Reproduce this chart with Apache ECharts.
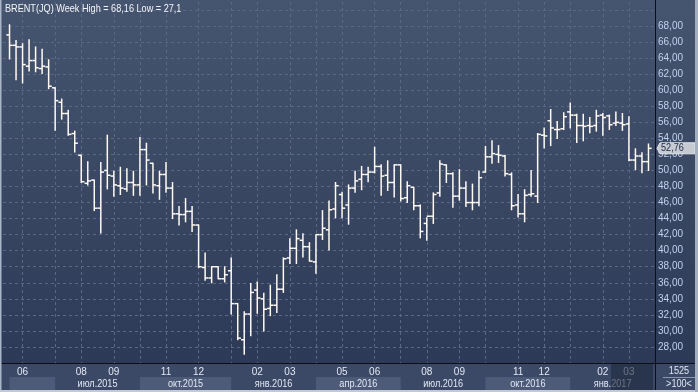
<!DOCTYPE html>
<html><head><meta charset="utf-8">
<script src="https://cdn.jsdelivr.net/npm/echarts@6/dist/echarts.min.js"></script>
<style>html,body{margin:0;padding:0;background:#2d3a57;overflow:hidden}#c{width:698px;height:392px}</style>
</head><body><div id="c"></div>
<script>
// ---- data (weekly OHLC, Brent JQ, week of 2015-05-11 .. 2017-03-27) ----
const opens  = [66.9,65.6,65.4,63.0,63.7,62.7,62.9,60.3,58.5,57.1,54.6,51.9,48.4,48.8,45.3,50.0,49.3,48.1,47.7,48.5,
                48.2,52.6,50.9,48.1,49.5,47.8,44.6,44.5,44.9,43.2,37.9,36.6,38.0,36.5,37.5,33.4,28.9,32.1,35.1,34.0,
                32.8,33.2,35.2,39.1,40.3,41.3,40.5,38.6,42.0,42.6,45.2,47.0,45.7,47.8,48.9,49.5,49.8,50.5,49.4,48.5,
                50.7,46.6,47.9,45.6,43.4,44.3,47.2,50.7,49.6,46.8,47.8,46.0,46.0,49.8,51.7,52.0,51.8,49.5,45.7,44.6,
                47.0,46.8,54.4,56.2,55.1,55.2,57.3,56.9,55.6,55.6,55.6,56.9,56.8,55.9,55.9,55.8,51.3,51.8,51.1];
const highs  = [68.16,66.2,65.8,66.3,65.4,65.1,63.8,60.3,58.9,57.5,54.9,51.9,51.1,48.8,51.0,54.4,49.9,50.4,50.2,49.9,
                54.1,53.4,50.9,49.9,51.0,48.5,45.5,46.5,45.5,43.2,39.7,38.0,38.0,38.0,39.1,33.4,32.4,35.9,36.1,34.7,
                35.7,37.0,39.1,41.5,42.6,42.1,41.0,42.0,45.0,46.2,48.5,47.3,48.2,49.9,50.5,50.4,52.9,50.7,51.2,50.7,
                50.7,48.6,47.9,45.7,44.1,47.2,51.2,50.7,49.7,50.1,48.6,48.3,49.9,53.0,53.7,53.1,51.9,49.7,47.0,47.6,
                50.0,54.6,55.3,57.6,56.1,57.2,58.4,57.0,57.0,56.6,57.5,57.1,56.9,57.3,57.1,56.7,52.7,52.2,53.3];
const lows   = [63.9,61.3,60.9,62.4,62.3,62.1,60.2,55.0,56.4,54.4,52.3,48.5,48.2,45.0,42.2,47.7,46.8,47.0,47.4,46.9,
                46.9,48.2,47.2,46.4,47.3,44.0,43.2,43.6,42.4,37.9,36.3,36.0,36.5,36.1,32.1,28.9,27.1,29.4,32.2,30.0,
                31.9,32.3,34.8,38.4,38.4,39.2,38.7,37.2,41.4,40.1,44.1,44.1,43.3,47.3,47.6,48.6,49.7,46.9,47.5,46.7,
                46.2,46.0,45.1,41.6,41.3,43.4,46.8,48.5,45.4,46.3,45.5,45.1,45.6,49.8,50.9,51.0,49.3,45.1,44.2,43.6,
                46.8,46.0,52.8,53.1,54.0,55.1,55.3,53.5,53.7,54.7,54.9,54.4,55.1,55.6,55.0,51.2,50.1,49.7,50.0];
const closes = [65.6,65.4,63.2,63.7,62.8,63.0,60.5,58.7,57.1,54.5,53.4,48.6,48.7,45.3,49.8,49.4,48.2,47.8,48.5,48.2,
                52.6,51.3,48.2,49.5,47.8,44.6,44.5,44.9,43.2,38.0,36.6,38.0,36.5,37.0,33.4,29.1,32.1,34.8,34.1,32.7,
                33.2,35.2,39.0,40.3,41.5,40.5,38.7,42.0,42.8,45.1,48.1,45.3,47.8,48.7,49.5,49.8,50.5,49.3,48.5,50.7,
                46.5,48.1,45.6,42.4,44.3,47.0,50.8,49.6,46.8,47.8,46.0,46.0,49.1,51.7,52.1,51.9,49.6,45.6,44.6,46.9,
                47.1,54.5,54.3,55.3,55.1,56.7,56.9,55.6,55.5,55.5,56.8,56.6,55.7,56.0,55.7,51.3,51.8,51.1,52.76];
const firstWeek = '2015-05-11';
// month boundaries (bar index), and their tick labels ('' = hidden, quarter months)
const monthIdx  = [2,7,11,16,20,24,29,34,38,43,47,51,56,60,64,69,73,78,82,86,91,95];
const monthText = ['06','','08','09','','11','12','','02','03','','05','06','','08','09','','11','12','','02','03'];
// quarter bands: start bar index, label
const quarterIdx   = [0,7,20,34,47,60,73,86];
const quarterText  = ['','июл.2015','окт.2015','янв.2016','апр.2016','июл.2016','окт.2016','янв.2017'];
const titleText = 'BRENT(JQ) Week High = 68,16 Low = 27,1';
const lastValue = 52.76;
const cornerTop = '1525', cornerBottom = '>100<';

// ---- build ----
const FONT = '"Liberation Sans Narrow","Liberation Sans",Arial,sans-serif';
const NARROW = 0.83;
const cats = [];
{
  const d0 = new Date(firstWeek + 'T00:00:00Z');
  for (let i = -1; i <= opens.length; i++) {
    const d = new Date(d0.getTime() + i * 7 * 86400000);
    cats.push(d.toISOString().slice(0, 10));
  }
}
const ohlc = opens.map((o, i) => [i + 1, o, highs[i], lows[i], closes[i]]);
const gridSet = new Set(monthIdx.map(i => i + 1));
const labelMap = {};
monthIdx.forEach((i, k) => { if (monthText[k]) labelMap[i + 1] = monthText[k]; });

const chart = echarts.init(document.getElementById('c'), null, {renderer: 'canvas'});
const dash = {color: '#5a6884', type: [3, 3], width: 1};
chart.setOption({
  animation: false,
  backgroundColor: '#3b4866',
  grid: {left: 3, right: 43, top: 2, bottom: 29, containLabel: false},
  xAxis: {
    type: 'category', data: cats, boundaryGap: false,
    axisLine: {show: false}, axisTick: {show: false},
    axisLabel: {interval: (i) => labelMap[i] !== undefined, formatter: (v, i) => labelMap[i] || '',
      margin: 4, color: '#e2e8f2', fontSize: 10, fontFamily: FONT},
    splitLine: {show: true, interval: (i) => gridSet.has(i), lineStyle: dash}
  },
  yAxis: {
    type: 'value', position: 'right', min: 26, max: 71, interval: 2, scale: true,
    axisLine: {show: false}, axisTick: {show: false},
    axisLabel: {margin: 3, color: '#bfd2ee', fontSize: 10, fontFamily: FONT,
      formatter: v => (v >= 28 && v <= 68) ? v.toFixed(2).replace('.', ',') : ''},
    splitLine: {show: true, showMaxLine: false, showMinLine: false, lineStyle: dash}
  },
  series: [{
    type: 'custom', data: ohlc, encode: {x: 0, y: [1, 2, 3, 4]}, clip: false,
    renderItem: (params, api) => {
      const x = api.value(0);
      const ph = api.coord([x, api.value(2)]);
      const pl = api.coord([x, api.value(3)]);
      const po = api.coord([x, api.value(1)]);
      const pc = api.coord([x, api.value(4)]);
      const X = ph[0];
      const st = {stroke: '#fffaf4', lineWidth: 1.5};
      return {type: 'group', children: [
        {type: 'line', shape: {x1: X, y1: ph[1] - 0.5, x2: X, y2: pl[1] + 0.5}, style: st},
        {type: 'line', shape: {x1: X - 3.2, y1: po[1], x2: X, y2: po[1]}, style: st},
        {type: 'line', shape: {x1: X, y1: pc[1], x2: X + 3.2, y2: pc[1]}, style: st}
      ]};
    }
  }]
});

function txt(text, x, y, fill, align, z) {
  return {type: 'text', z: z || 71, silent: true, x: x, y: y, scaleX: NARROW,
    style: {text: text, fill: fill, font: '11px ' + FONT, align: align || 'left', verticalAlign: 'middle'}};
}

function buildGraphics() {
  const px = i => chart.convertToPixel({xAxisIndex: 0}, i);
  const py = v => chart.convertToPixel({yAxisIndex: 0}, v);
  const W = 698, H = 392, axisY = 363, rightX = 655;
  const slot = px(2) - px(1);
  const els = [];
  // plot + right column background gradient
  els.push({type: 'rect', z: -100, silent: true, shape: {x: 0, y: 0, width: W, height: axisY},
    style: {fill: new echarts.graphic.LinearGradient(0, 0, 0, 1, [
      {offset: 0, color: '#46556f'}, {offset: 1, color: '#2d3a57'}])}});
  // title
  els.push(txt(titleText, 5, 8.5, '#f2f4f8', 'left', 90));
  // quarter bands and labels
  for (let k = 0; k < quarterIdx.length; k++) {
    const x0 = px(quarterIdx[k] + 1);
    const x1 = k + 1 < quarterIdx.length ? px(quarterIdx[k + 1] + 1) : rightX;
    if (k % 2 === 0) {
      els.push({type: 'rect', z: 1, silent: true, shape: {x: x0, y: 377, width: x1 - x0, height: 13},
        style: {fill: '#4d5b79'}});
    }
    if (quarterText[k]) els.push(txt(quarterText[k], (x0 + x1) / 2, 384, '#e2e8f2', 'center', 2));
  }
  // darker overlay on the latest range of the axis strip
  const ox = px(opens.length - 6) + slot * 0.25;
  els.push({type: 'rect', z: 50, silent: true, shape: {x: ox, y: axisY + 1, width: rightX - 2 - ox, height: 26},
    style: {fill: 'rgba(30,40,62,0.62)'}});
  // separators
  els.push({type: 'line', z: 60, silent: true, shape: {x1: 0, y1: axisY + 0.5, x2: W, y2: axisY + 0.5},
    style: {stroke: '#0b0f18', lineWidth: 1}});
  els.push({type: 'line', z: 60, silent: true, shape: {x1: rightX + 0.5, y1: 0, x2: rightX + 0.5, y2: H},
    style: {stroke: '#0b0f18', lineWidth: 1}});
  // last price marker
  const yc = py(lastValue);
  els.push({type: 'polygon', z: 70, silent: true,
    shape: {points: [[657, yc], [660, yc - 5.5], [695, yc - 5.5], [695, yc + 5.5], [660, yc + 5.5]]},
    style: {fill: '#c6cad2', stroke: '#e4e6ea', lineWidth: 1}});
  els.push(txt(lastValue.toFixed(2).replace('.', ','), 661, yc, '#1c2840'));
  // corner box
  els.push(txt(cornerTop, 679, 371, '#e2e8f2', 'center'));
  els.push({type: 'line', z: 71, silent: true, shape: {x1: 663, y1: 377.5, x2: 695, y2: 377.5},
    style: {stroke: '#8a97b0', lineWidth: 1}});
  els.push(txt(cornerBottom, 679, 384, '#e2e8f2', 'center'));
  // outer frame
  els.push({type: 'rect', z: 80, silent: true, shape: {x: 0, y: 0, width: 1.5, height: H}, style: {fill: '#a9b5c8'}});
  els.push({type: 'rect', z: 80, silent: true, shape: {x: 0, y: 390, width: W, height: 2}, style: {fill: '#c4cad4'}});
  els.push({type: 'rect', z: 80, silent: true, shape: {x: 695, y: 0, width: 3, height: H}, style: {fill: '#a3aebf'}});
  chart.setOption({graphic: {elements: els}});
}
buildGraphics();
</script>
</body></html>
